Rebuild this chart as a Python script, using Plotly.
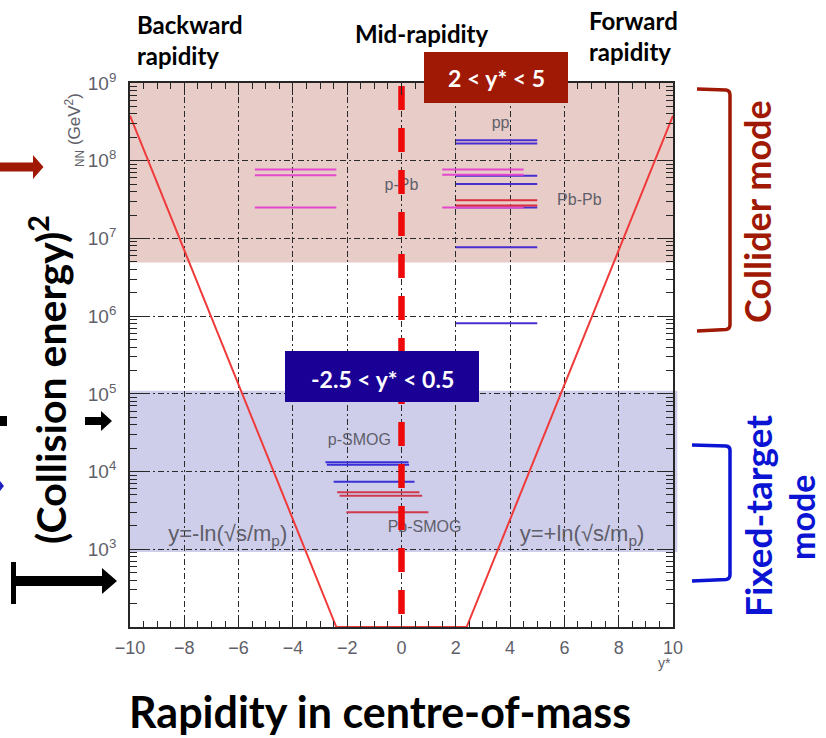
import math
import plotly.graph_objects as go

# ---------------- data ----------------
rap_ticks = [-10, -8, -6, -4, -2, 0, 2, 4, 6, 8, 10]
s_tickvals = [1e2, 1e3, 1e4, 1e5, 1e6, 1e7, 1e8, 1e9]
s_ticktext = ["", "10<sup>3</sup>", "10<sup>4</sup>", "10<sup>5</sup>", "10<sup>6</sup>",
              "10<sup>7</sup>", "10<sup>8</sup>", "10<sup>9</sup>"]

# kinematic limit y = -/+ ln(sqrt(s)/m_p): straight lines on a log-s axis
limit_rap = [-10, -2.4, 2.4, 10]
limit_s = [3.8e8, 1e2, 1e2, 3.8e8]

# collider mode: pp (LHCb acceptance)
pp_s = [1.84e8, 1.67e8, 6.4e7, 5.0e7, 2.5e7, 7.7e6, 8.1e5]
pp_lo = [2.0, 2.0, 2.0, 2.0, 2.0, 2.0, 2.0]
pp_hi = [5.0, 5.0, 5.0, 5.0, 5.0, 5.0, 5.0]

# collider mode: p-Pb / Pb-p
ppb_s = [7.7e7, 6.6e7, 2.5e7, 7.7e7, 6.5e7, 2.5e7]
ppb_lo = [1.5, 1.5, 1.5, -5.4, -5.4, -5.4]
ppb_hi = [4.5, 4.5, 4.5, -2.4, -2.4, -2.4]

# collider mode: Pb-Pb
pbpb_s = [3.1e7, 2.65e7]
pbpb_lo = [2.0, 2.0]
pbpb_hi = [5.0, 5.0]

# fixed-target mode: p-SMOG
psmog_s = [1.32e4, 1.22e4, 7.4e3]
psmog_lo = [-2.8, -2.75, -2.5]
psmog_hi = [0.26, 0.28, 0.48]

# fixed-target mode: Pb-SMOG
pbsmog_s = [5.4e3, 4.9e3, 3.0e3]
pbsmog_lo = [-2.37, -2.28, -2.03]
pbsmog_hi = [0.66, 0.76, 0.99]

# shaded regimes (s ranges)
collider_band = [4.9e6, 1e9]
fixed_band = [9.2e2, 1.1e5]

# acceptance marker at y* = 0
mid_rap = [0, 0]
mid_s = [10 ** 8.96, 1.35e2]

# ---------------- layout helpers ----------------
FIG_W, FIG_H = 826, 738
L, R, T, B = 130, 673, 83, 627
PW, PH = R - L, B - T


def px(xp):
    return (xp - L) / PW


def py(yp):
    return (B - yp) / PH


def segs(lo, hi, s):
    xs, ys = [], []
    for a, b, v in zip(lo, hi, s):
        xs += [a, b, None]
        ys += [v, v, None]
    return xs, ys


GRAY = "#5f5f6a"
AX = "#262626"
DARKRED = "#A01905"
NAVY = "#1B0096"
BLUE = "#0A14D2"
HEAD_FONT = "Lato"

fig = go.Figure()

# kinematic limit
fig.add_trace(go.Scatter(x=limit_rap, y=limit_s, mode="lines",
                         line=dict(color="#F03A3A", width=2), hoverinfo="skip"))

for (lo, hi, s, col) in [
    (pp_lo, pp_hi, pp_s, "#4A2ED0"),
    (ppb_lo, ppb_hi, ppb_s, "#E448CC"),
    (pbpb_lo, pbpb_hi, pbpb_s, "#DC2E3C"),
    (psmog_lo, psmog_hi, psmog_s, "#3A2ED8"),
    (pbsmog_lo, pbsmog_hi, pbsmog_s, "#D0384C"),
]:
    xs, ys = segs(lo, hi, s)
    fig.add_trace(go.Scatter(x=xs, y=ys, mode="lines",
                             line=dict(color=col, width=2), hoverinfo="skip"))

# system labels
lab_x = [3.65, 0.0, 6.55, -1.55, 0.85]
lab_s = [3.0e8, 4.7e7, 3.0e7, 2.5e4, 1.9e3]
lab_t = ["pp", "p-Pb", "Pb-Pb", "p-SMOG", "Pb-SMOG"]
fig.add_trace(go.Scatter(x=lab_x, y=lab_s, mode="text", text=lab_t,
                         textfont=dict(family="Liberation Sans", size=16, color=GRAY),
                         hoverinfo="skip"))
fig.add_trace(go.Scatter(x=[-6.4, 6.65], y=[1.5e3, 1.5e3], mode="text",
                         text=["y=-ln(√s/m<sub>p</sub>)", "y=+ln(√s/m<sub>p</sub>)"],
                         textfont=dict(family="Liberation Sans", size=22, color=GRAY),
                         hoverinfo="skip"))

# mid-rapidity marker
fig.add_trace(go.Scatter(x=mid_rap, y=mid_s, mode="lines",
                         line=dict(color="#EE0A0A", width=6.5, dash="24px,18px"),
                         hoverinfo="skip"))

# regime bands
fig.add_shape(type="rect", xref="x", yref="y", x0=-10, x1=10,
              y0=collider_band[0], y1=collider_band[1],
              fillcolor="rgb(232,204,200)", line_width=0, layer="below")
fig.add_shape(type="rect", xref="paper", yref="y", x0=0, x1=1.008,
              y0=fixed_band[0], y1=fixed_band[1],
              fillcolor="rgb(206,206,234)", line_width=0, layer="below")

# acceptance boxes
fig.add_shape(type="rect", xref="paper", yref="paper", x0=px(424), x1=px(568),
              y0=py(103), y1=py(52), fillcolor=DARKRED, line_width=0, layer="above")
fig.add_annotation(xref="paper", yref="paper", x=px(496), y=py(78), text="<b>2 &lt; y* &lt; 5</b>",
                   xanchor="center", yanchor="middle",
                   showarrow=False, font=dict(family=HEAD_FONT, size=23, color="white"))
fig.add_shape(type="rect", xref="paper", yref="paper", x0=px(285), x1=px(479),
              y0=py(402), y1=py(351), fillcolor=NAVY, line_width=0, layer="above")
fig.add_annotation(xref="paper", yref="paper", x=px(382), y=py(379), text="<b>-2.5 &lt; y* &lt; 0.5</b>",
                   xanchor="center", yanchor="middle",
                   showarrow=False, font=dict(family=HEAD_FONT, size=23, color="white"))


def poly(points, color):
    d = "M " + " L ".join(f"{px(a):.5f},{py(b):.5f}" for a, b in points) + " Z"
    fig.add_shape(type="path", xref="paper", yref="paper", path=d,
                  fillcolor=color, line_width=0, layer="above")


# arrows on the left
poly([(0, 162.5), (33, 162.5), (33, 155), (43.5, 167), (33, 179), (33, 171.5), (0, 171.5)], DARKRED)
poly([(85, 417), (101, 417), (101, 411), (112, 421), (101, 431), (101, 425), (85, 425)], "black")
poly([(12, 576), (102, 576), (102, 568), (117, 581), (102, 594), (102, 586), (12, 586)], "black")
poly([(11, 562), (16, 562), (16, 604), (11, 604)], "black")
poly([(0, 416), (7, 416), (7, 426), (0, 426)], "black")
poly([(0, 481), (4, 486), (0, 491)], "#2020C0")

# mode brackets
fig.add_shape(type="path", xref="paper", yref="paper",
              path=(f"M {px(697)},{py(89)} L {px(726)},{py(90)} Q {px(730)},{py(90.5)} {px(730)},{py(95)} "
                    f"L {px(730)},{py(325)} Q {px(730)},{py(329)} {px(726)},{py(329.5)} L {px(697)},{py(331)}"),
              line=dict(color=DARKRED, width=3.5), layer="above")
fig.add_shape(type="path", xref="paper", yref="paper",
              path=(f"M {px(692)},{py(445)} L {px(726)},{py(446)} Q {px(730)},{py(446.5)} {px(730)},{py(450)} "
                    f"L {px(730)},{py(575)} Q {px(730)},{py(579)} {px(726)},{py(579.5)} L {px(692)},{py(581)}"),
              line=dict(color=BLUE, width=3.5), layer="above")


def txt(x, y, s, size, color="black", angle=0, xanchor="center", yanchor="middle", align="center",
        family=HEAD_FONT):
    fig.add_annotation(xref="paper", yref="paper", x=px(x), y=py(y), text=s, showarrow=False,
                       textangle=angle, xanchor=xanchor, yanchor=yanchor, align=align,
                       font=dict(family=family, size=size, color=color))


txt(757, 212, "<b>Collider mode</b>", 36, DARKRED, angle=-90)
txt(757, 516, "<b>Fixed-target</b>", 37, BLUE, angle=-90)
txt(801, 518, "<b>mode</b>", 34, BLUE, angle=-90)

txt(135, 8, "<b>Backward<br>rapidity</b>", 24, xanchor="left", yanchor="top", align="left")
txt(422, 34, "<b>Mid-rapidity</b>", 24)
txt(587, 4, "<b>Forward<br>rapidity</b>", 24, xanchor="left", yanchor="top", align="left")

txt(48, 380, "<b>(Collision energy)<sup>2</sup></b>", 41, angle=-90)
txt(380, 711, "<b>Rapidity in centre-of-mass</b>", 43)

txt(74, 130, "<sub>NN</sub> (GeV<sup>2</sup>)", 17, GRAY, angle=-90, family="Liberation Sans")
txt(664, 663, "y*", 14, GRAY, family="Liberation Sans")

grid_dash = "6px,3px,2px,3px"
fig.update_xaxes(range=[-10, 10], tickmode="array", tickvals=rap_ticks,
                 ticks="inside", ticklen=12, tickwidth=1.4, tickcolor=AX,
                 mirror="allticks", showline=True, linecolor=AX, linewidth=1.8,
                 showgrid=True, gridcolor="#2a2a2a", gridwidth=1.3, griddash=grid_dash,
                 zeroline=False, ticklabelstandoff=3,
                 minor=dict(dtick=0.5, tick0=0, ticks="inside", ticklen=6, tickcolor=AX, showgrid=False),
                 tickfont=dict(family="Liberation Sans", size=18, color=GRAY))
fig.update_yaxes(type="log", range=[2, 9], tickmode="array", tickvals=s_tickvals, ticktext=s_ticktext,
                 ticks="inside", ticklen=14, tickwidth=1.4, tickcolor=AX,
                 mirror="allticks", showline=True, linecolor=AX, linewidth=1.8,
                 showgrid=True, gridcolor="#2a2a2a", gridwidth=1.3, griddash=grid_dash,
                 zeroline=False, ticklabelstandoff=8,
                 minor=dict(dtick="D1", ticks="inside", ticklen=7, tickcolor=AX, showgrid=False),
                 tickfont=dict(family="Liberation Sans", size=19, color=GRAY))

fig.update_layout(width=FIG_W, height=FIG_H, margin=dict(l=L, r=FIG_W - R, t=T, b=FIG_H - B),
                  plot_bgcolor="white", paper_bgcolor="white", showlegend=False)

fig.write_html("out.html")
